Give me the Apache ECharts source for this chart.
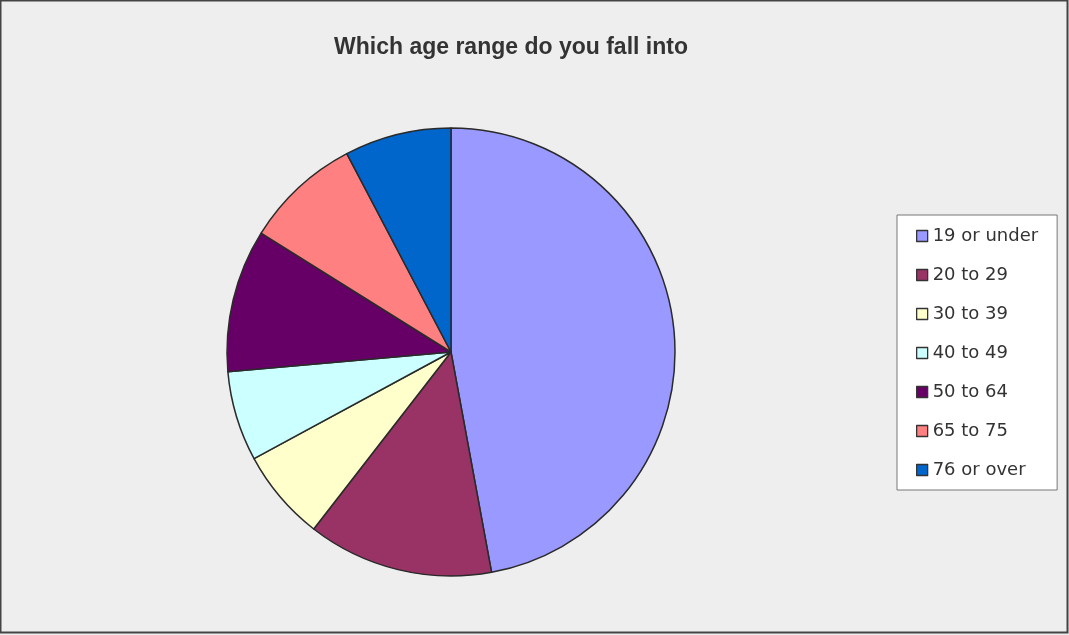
<!DOCTYPE html>
<html><head><meta charset="utf-8">
<script src="https://cdn.jsdelivr.net/npm/echarts@6/dist/echarts.min.js"></script>
<style>html,body{margin:0;padding:0;background:#eeeeee;}#c{width:1069px;height:635px;}</style>
</head><body><div id="c"></div>
<script>
const categories = ['19 or under','20 to 29','30 to 39','40 to 49','50 to 64','65 to 75','76 or over'];
const values = [47.1, 13.4, 6.6, 6.5, 10.3, 8.4, 7.7];
const colors = ['#9999ff','#993366','#ffffcc','#ccffff','#660066','#ff8080','#0066cc'];
const titleText = 'Which age range do you fall into';

const chart = echarts.init(document.getElementById('c'));
chart.setOption({
  backgroundColor: '#eeeeee',
  animation: false,
  title: {
    text: titleText, left: 506, top: 31, textAlign: 'center',
    textStyle: {fontFamily: 'Liberation Sans, Arial', fontWeight: 'bold', fontSize: 23, color: '#333333', letterSpacing: -1.1}
  },
  graphic: [{
    type: 'rect', shape: {x: 0.5, y: 0.5, width: 1067, height: 632}, silent: true,
    style: {fill: 'none', stroke: '#444444', lineWidth: 2}
  }],
  legend: {
    orient: 'vertical', left: 897, top: 215,
    backgroundColor: '#ffffff', borderColor: '#777777', borderWidth: 1,
    padding: [12, 19, 11, 19], itemGap: 21,
    itemWidth: 11, itemHeight: 11, icon: 'rect',
    itemStyle: {borderColor: '#333333', borderWidth: 1.3},
    textStyle: {fontFamily: 'DejaVu Sans', fontSize: 18, color: '#333333', lineHeight: 18},
    data: categories
  },
  series: [{
    type: 'pie', center: [451, 352], radius: 224, startAngle: 90, clockwise: true,
    label: {show: false}, labelLine: {show: false},
    itemStyle: {borderColor: '#2a2a2a', borderWidth: 1.5},
    emphasis: {disabled: true},
    data: categories.map((c, i) => ({name: c, value: values[i], itemStyle: {color: colors[i]}}))
  }]
});
</script></body></html>
